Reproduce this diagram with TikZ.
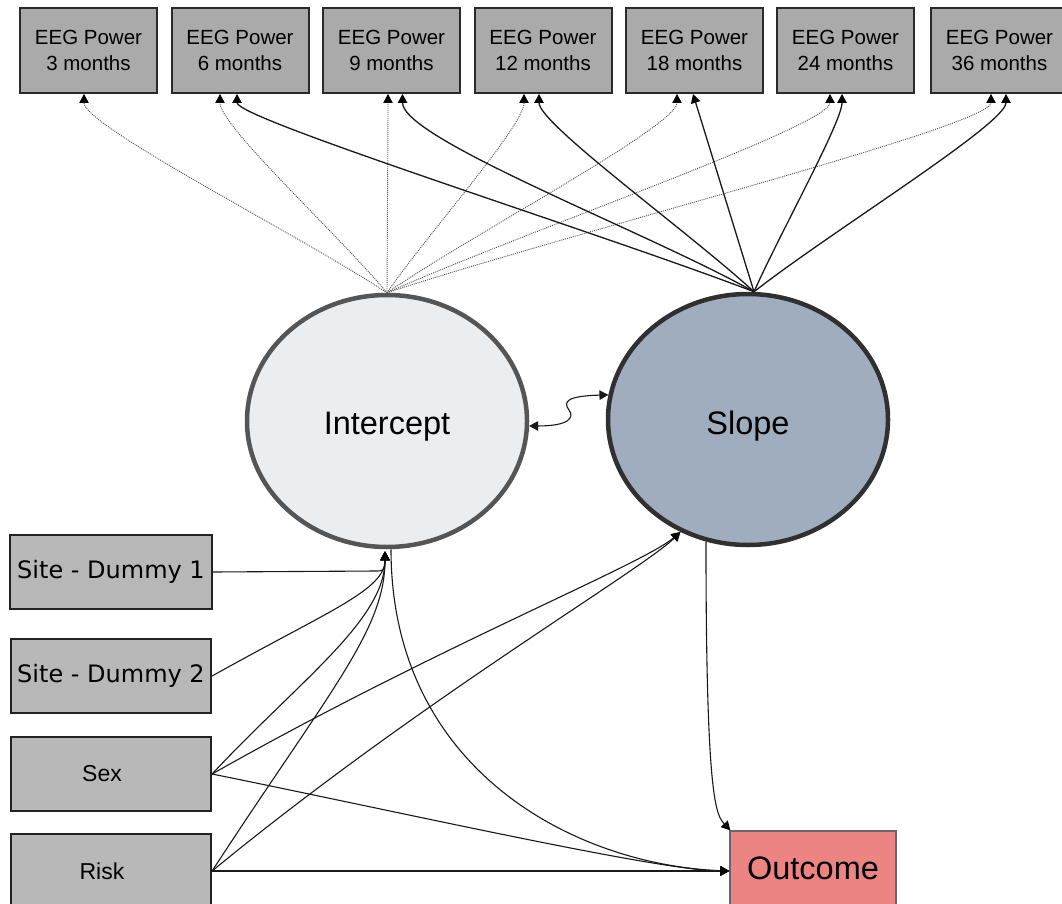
\documentclass[tikz,border=0pt]{standalone}
\usepackage{fontspec}
\setmainfont{Liberation Sans}
\newfontfamily\dejavu{DejaVu Sans}
\usetikzlibrary{arrows.meta,calc,shapes.geometric}
\definecolor{topfill}{HTML}{AAAAAA}
\definecolor{topline}{HTML}{2A2A2A}
\definecolor{covfill}{HTML}{B8B8B8}
\definecolor{covline}{HTML}{222222}
\definecolor{icfill}{HTML}{EBEEF1}
\definecolor{icline}{HTML}{555555}
\definecolor{slfill}{HTML}{A0ADBE}
\definecolor{slline}{HTML}{303030}
\definecolor{outfill}{HTML}{EC8484}
\definecolor{outline}{HTML}{666666}
\definecolor{dotgray}{HTML}{555555}
\begin{document}
\begin{tikzpicture}[x=1pt,y=-1pt,
  eegbox/.style={draw=topline, fill=topfill, line width=2pt, minimum width=137pt,
    minimum height=85pt, inner sep=0pt, align=center, font=\fontsize{20.5}{26.5}\selectfont},
  covbox/.style={draw=covline, fill=covfill, line width=2.2pt, minimum width=200pt,
    minimum height=74pt, inner sep=0pt},
  latent/.style={ellipse, line width=4.5pt, minimum width=280pt, minimum height=252pt,
    inner sep=0pt, font=\fontsize{32.5}{39}\selectfont},
  tip/.style={-{Triangle[length=9pt,width=9.5pt,color=black]}},
  dotload/.style={tip, draw=dotgray, line width=0.9pt, dash pattern=on 1pt off 1pt},
  solload/.style={tip, draw=black!90, line width=1.3pt},
  reg/.style={tip, draw=black!90, line width=1.1pt}
]
\clip (0,0) rectangle (1062,904);
\fill[white] (0,0) rectangle (1062,904);

% top indicators
\node[eegbox] (e1) at (88.5,50.5) {EEG Power\\3 months};
\node[eegbox] (e2) at (240,50.5) {EEG Power\\6 months};
\node[eegbox] (e3) at (391.5,50.5) {EEG Power\\9 months};
\node[eegbox] (e4) at (543,50.5) {EEG Power\\12 months};
\node[eegbox] (e5) at (694.5,50.5) {EEG Power\\18 months};
\node[eegbox] (e6) at (845.5,50.5) {EEG Power\\24 months};
\node[eegbox] (e7) at (999.5,50.5) {EEG Power\\36 months};

% latent factors
\node[latent, draw=icline, fill=icfill] (I) at (387,421) {\raisebox{-13.5pt}[0pt][0pt]{Intercept}};
\node[latent, draw=slline, fill=slfill, minimum height=251pt] (S) at (748,419.5) {\raisebox{-15pt}[0pt][0pt]{Slope}};

% covariates
\node[covbox, minimum width=202pt] (D1) at (111,572) {\dejavu\fontsize{24}{28}\selectfont Site - Dummy 1};
\node[covbox] (D2) at (111,676) {\dejavu\fontsize{24}{28}\selectfont Site - Dummy 2};
\node[covbox] (Sx) at (111,774) {\fontsize{23}{28}\selectfont Sex\hspace*{18pt}};
\node[covbox] (R) at (111,871) {\fontsize{23}{28}\selectfont Risk\hspace*{18pt}};

% outcome
\node[draw=outline, fill=outfill, line width=1.3pt, minimum width=166pt, minimum height=74pt,
  inner sep=0pt, font=\fontsize{32.5}{39}\selectfont] (O) at (813,868) {Outcome};

% anchor coordinates
\coordinate (Itop) at (I.north);
\coordinate (Stop) at ($(S.north)+(6,0)$);
\foreach \k/\dx in {1/-4.5,2/-20,3/-3.5,4/-19,5/-17.5,6/-15.5,7/-8.5}{
  \coordinate (d\k) at ($(e\k.south)+(\dx,0)$);
}
\foreach \k/\dx in {2/-3,3/11,4/-4,5/-1.5,6/-3.5,7/6.5}{
  \coordinate (s\k) at ($(e\k.south)+(\dx,0)$);
}

% intercept loadings (dotted)
\foreach \k in {1,...,7}{
  \draw[dotload] (Itop) .. controls ($(Itop)!0.3!(d\k)$) and ($(d\k)+(0,32)$) .. (d\k);
}
% slope loadings (solid)
\foreach \k/\h in {2/25,3/45,4/30,6/28,7/30}{
  \draw[solload] (Stop) .. controls ($(Stop)!0.3!(s\k)$) and ($(s\k)+(0,\h)$) .. (s\k);
}
\draw[solload] (Stop) -- (s5);

% covariance
\coordinate (Ic) at (I.358);
\coordinate (Sc) at (S.170);
\draw[{Triangle[length=9pt,width=9.5pt]}-{Triangle[length=9pt,width=9.5pt]}, draw=black!90, line width=1.1pt]
  (Ic) .. controls (568,426) and (575,418) .. (569,410)
       .. controls (563,402) and (566,396) .. (Sc);

% regressions into intercept and slope
\coordinate (Iin) at ($(I.south)+(-2,2)$);
\coordinate (Sin) at (S.239);
\draw[reg] (D1.east) -- (377,571) .. controls (385,571) and (385,568) .. (Iin);
\draw[reg] (D2.east) .. controls (330,610) and (385,590) .. (Iin);
\draw[reg] (Sx.east) .. controls (300,680) and (385,620) .. (Iin);
\draw[reg] (R.east) .. controls (330,690) and (385,630) .. (Iin);
\draw[reg] (Sx.east) .. controls (440,645) and (642,565) .. (Sin);
\draw[reg] (R.east) .. controls (420,700) and (642,570) .. (Sin);

% regressions into outcome
\coordinate (Oin) at ($(O.west)+(0,3)$);
\coordinate (Otop) at ($(O.north west)+(1,0)$);
\coordinate (Iout) at ($(I.south)+(4,0)$);
\coordinate (Sout) at (S.251);
\draw[reg] (Sx.east) .. controls (400,812) and (660,871) .. (Oin);
\draw[reg] (R.east) -- (Oin);
\draw[reg] (Iout) .. controls (391,770) and (575,865) .. (Oin);
\draw[reg] (Sout) .. controls (706,800) and (716,815) .. (Otop);
\end{tikzpicture}
\end{document}
